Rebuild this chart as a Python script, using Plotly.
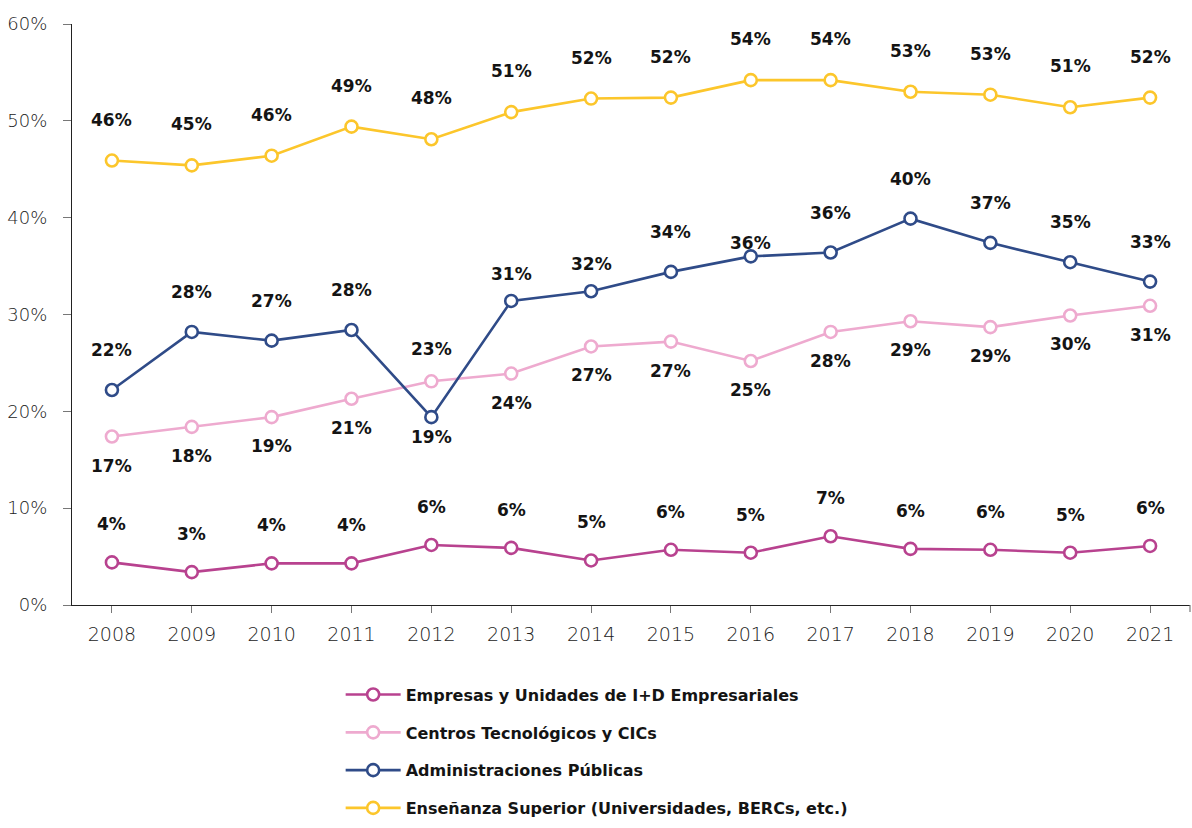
import plotly.graph_objects as go

# Years on the horizontal axis
years = [2008, 2009, 2010, 2011, 2012, 2013, 2014, 2015, 2016, 2017, 2018, 2019, 2020, 2021]

# Share of R&D staff by sector (%)
empresas = [4.4, 3.4, 4.3, 4.3, 6.2, 5.9, 4.6, 5.7, 5.4, 7.1, 5.8, 5.7, 5.4, 6.1]
centros = [17.4, 18.4, 19.4, 21.3, 23.1, 23.9, 26.7, 27.2, 25.2, 28.2, 29.3, 28.7, 29.9, 30.9]
administraciones = [22.2, 28.2, 27.3, 28.4, 19.4, 31.4, 32.4, 34.4, 36.0, 36.4, 39.9, 37.4, 35.4, 33.4]
ensenanza = [45.9, 45.4, 46.4, 49.4, 48.1, 50.9, 52.3, 52.4, 54.2, 54.2, 53.0, 52.7, 51.4, 52.4]

series_names = [
    "Empresas y Unidades de I+D Empresariales",
    "Centros Tecnológicos y CICs",
    "Administraciones Públicas",
    "Enseñanza Superior (Universidades, BERCs, etc.)",
]
y_ticks = [0, 10, 20, 30, 40, 50, 60]

colors = ["#b8428f", "#eeaacf", "#2f4b88", "#fcc62b"]

# Vertical offset (px) of each value label: default per series, plus exceptions by year
label_shift = [38, -29, 40, 41]
label_shift_exceptions = {
    1: {2012: 32},
    2: {2012: -20, 2013: 27, 2014: 27, 2016: 13},
}

FONT = "DejaVu Sans"

fig = go.Figure()
all_series = [empresas, centros, administraciones, ensenanza]
for i, (name, vals) in enumerate(zip(series_names, all_series)):
    fig.add_trace(go.Scatter(
        x=years, y=vals, name=name, mode="lines+markers",
        line=dict(color=colors[i], width=2.6),
        marker=dict(size=12, color="white", line=dict(color=colors[i], width=2.6)),
        legendgroup=f"g{i}",
        hoverinfo="skip",
    ))
    for x, v in zip(years, vals):
        shift = label_shift_exceptions.get(i, {}).get(x, label_shift[i])
        fig.add_annotation(
            x=x, y=v, text=f"{v:.0f}%", showarrow=False, yshift=shift,
            font=dict(family=FONT, size=17, color="#141414", weight="bold"),
        )

# closing tick at the right end of the horizontal axis
fig.add_shape(
    type="line", xref="paper", x0=1, x1=1,
    yref="paper", ysizemode="pixel", yanchor=0, y0=0, y1=-7,
    line=dict(color="#777", width=1.2),
)

fig.update_layout(
    width=1192, height=828,
    margin=dict(l=72, r=2, t=24, b=223),
    paper_bgcolor="white", plot_bgcolor="white",
    font=dict(family=FONT, color="#333"),
    showlegend=True,
    legend=dict(
        x=0.2403, y=-0.125, xanchor="left", yanchor="top",
        traceorder="grouped", tracegroupgap=14, itemwidth=55,
        font=dict(family=FONT, size=16, color="#141414", weight="bold"),
    ),
)
fig.update_xaxes(
    range=[2007.5, 2021.5], tickvals=years, ticktext=[str(y) for y in years],
    showgrid=False, zeroline=False,
    showline=True, linecolor="#222", linewidth=1.3,
    ticks="outside", ticklen=7, tickcolor="#777", tickwidth=1.2,
    tickfont=dict(family=FONT, size=19, color="#222", weight=200),
    ticklabelstandoff=5,
)
fig.update_yaxes(
    range=[0, 60], tickvals=y_ticks, ticktext=[f"{t}%" for t in y_ticks],
    showgrid=False, zeroline=False,
    showline=True, linecolor="#222", linewidth=1.3,
    ticks="outside", ticklen=8, tickcolor="#777", tickwidth=1.2,
    tickfont=dict(family=FONT, size=18, color="#222", weight=200),
    ticklabelstandoff=12,
)

fig.write_html("out.html")
